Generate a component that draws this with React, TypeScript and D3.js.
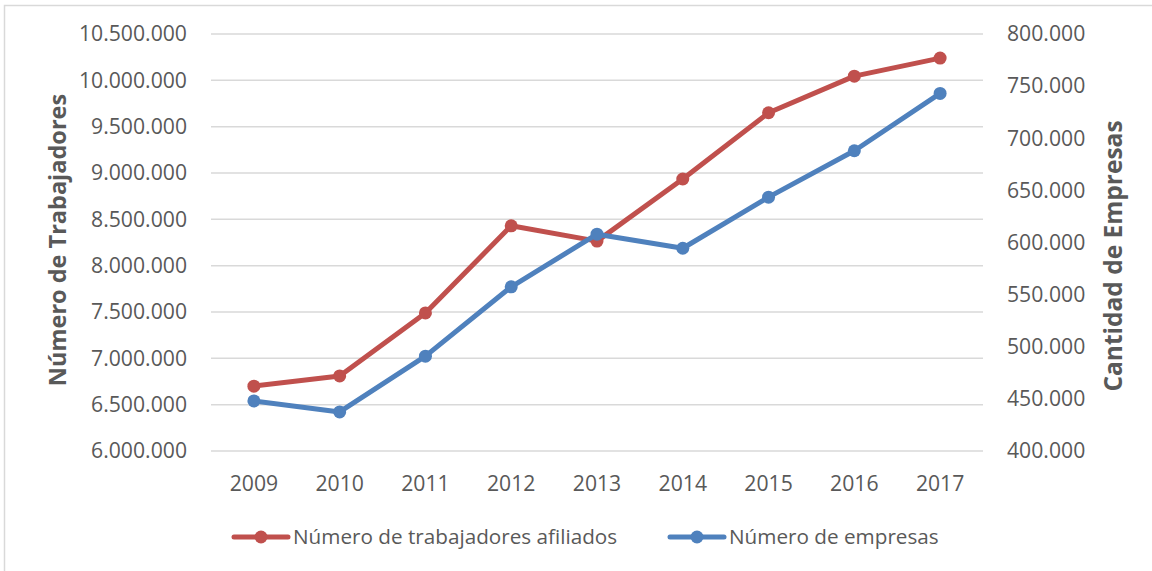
import React, { useEffect, useRef } from 'react';
import * as d3 from 'd3';

const years = ['2009', '2010', '2011', '2012', '2013', '2014', '2015', '2016', '2017'];
const trabajadores = [6700000, 6810000, 7490000, 8430000, 8265000, 8935000, 9650000, 10045000, 10240000];
const empresas = [448000, 437500, 491000, 557500, 608000, 594500, 643500, 688000, 743000];
const leftTicks = [6000000, 6500000, 7000000, 7500000, 8000000, 8500000, 9000000, 9500000, 10000000, 10500000];
const rightTicks = [400000, 450000, 500000, 550000, 600000, 650000, 700000, 750000, 800000];

const RED = '#C0504D';
const BLUE = '#4F81BD';
const FONT = '"Open Sans", sans-serif';
const TICK_SIZE = '21.2px';

function App() {
    const chartRef = useRef(null);

    useEffect(() => {
        const svg = d3.select(chartRef.current);
        svg.selectAll('*').remove();

        const fmt = (v) => d3.format(',')(v).replace(/,/g, '.');

        svg.append('rect')
            .attr('x', 4.5).attr('y', 5.5)
            .attr('width', 1160).attr('height', 580)
            .attr('fill', 'white')
            .attr('stroke', '#D9D9D9')
            .attr('stroke-width', 1.5);

        const x = d3.scaleBand().domain(years).range([211, 983]);
        const yL = d3.scaleLinear().domain([6000000, 10500000]).range([451, 34]);
        const yR = d3.scaleLinear().domain([400000, 800000]).range([451, 34]);

        // gridlines
        svg.append('g')
            .selectAll('line')
            .data(leftTicks)
            .join('line')
            .attr('x1', 211).attr('x2', 983)
            .attr('y1', d => yL(d)).attr('y2', d => yL(d))
            .attr('stroke', '#D9D9D9')
            .attr('stroke-width', 1.5);

        // left axis
        const left = svg.append('g')
            .attr('transform', 'translate(187,0)')
            .call(d3.axisLeft(yL).tickValues(leftTicks).tickFormat(fmt).tickSize(0).tickPadding(0));
        left.select('.domain').remove();
        left.selectAll('text')
            .attr('fill', '#595959')
            .style('font-family', FONT)
            .style('font-size', TICK_SIZE);

        // right axis
        const right = svg.append('g')
            .attr('transform', 'translate(1007,0)')
            .call(d3.axisRight(yR).tickValues(rightTicks).tickFormat(fmt).tickSize(0).tickPadding(0));
        right.select('.domain').remove();
        right.selectAll('text')
            .attr('fill', '#595959')
            .style('font-family', FONT)
            .style('font-size', TICK_SIZE);

        // x axis
        const bottom = svg.append('g')
            .attr('transform', 'translate(0,476)')
            .call(d3.axisBottom(x).tickSize(0).tickPadding(0));
        bottom.select('.domain').remove();
        bottom.selectAll('text')
            .attr('fill', '#595959')
            .style('font-family', FONT)
            .style('font-size', TICK_SIZE);

        // axis titles
        svg.append('text')
            .attr('transform', 'translate(66,240) rotate(-90)')
            .attr('text-anchor', 'middle')
            .attr('fill', '#595959')
            .style('font-family', FONT)
            .style('font-size', '23.5px')
            .style('font-weight', 'bold')
            .text('Número de Trabajadores');

        svg.append('text')
            .attr('transform', 'translate(1122,256) rotate(-90)')
            .attr('text-anchor', 'middle')
            .attr('fill', '#595959')
            .style('font-family', FONT)
            .style('font-size', '24.5px')
            .style('font-weight', 'bold')
            .text('Cantidad de Empresas');

        const cx = (d) => x(d) + x.bandwidth() / 2;

        const series = [
            { values: trabajadores, y: yL, color: RED },
            { values: empresas, y: yR, color: BLUE }
        ];

        series.forEach(s => {
            const pts = years.map((yr, i) => [cx(yr), s.y(s.values[i])]);
            svg.append('path')
                .attr('d', d3.line()(pts))
                .attr('fill', 'none')
                .attr('stroke', s.color)
                .attr('stroke-width', 5)
                .attr('stroke-linejoin', 'round')
                .attr('stroke-linecap', 'round');
            svg.append('g')
                .selectAll('circle')
                .data(pts)
                .join('circle')
                .attr('cx', d => d[0])
                .attr('cy', d => d[1])
                .attr('r', 6.5)
                .attr('fill', s.color);
        });

        // legend
        const legend = [
            { label: 'Número de trabajadores afiliados', color: RED, x: 234 },
            { label: 'Número de empresas', color: BLUE, x: 670 }
        ];
        const lg = svg.append('g').selectAll('g').data(legend).join('g')
            .attr('transform', d => 'translate(' + d.x + ',537)');
        lg.append('line')
            .attr('x1', 0).attr('x2', 54)
            .attr('stroke', d => d.color)
            .attr('stroke-width', 5)
            .attr('stroke-linecap', 'round');
        lg.append('circle')
            .attr('cx', 27).attr('r', 6.5)
            .attr('fill', d => d.color);
        lg.append('text')
            .attr('x', 59)
            .attr('dy', '0.35em')
            .attr('fill', '#595959')
            .style('font-family', FONT)
            .style('font-size', '20.7px')
            .text(d => d.label);
    }, []);

    return (
        <svg ref={chartRef} width={1152} height={571}
            style={{ position: 'absolute', left: 0, top: 0 }}></svg>
    );
}

export default App;
